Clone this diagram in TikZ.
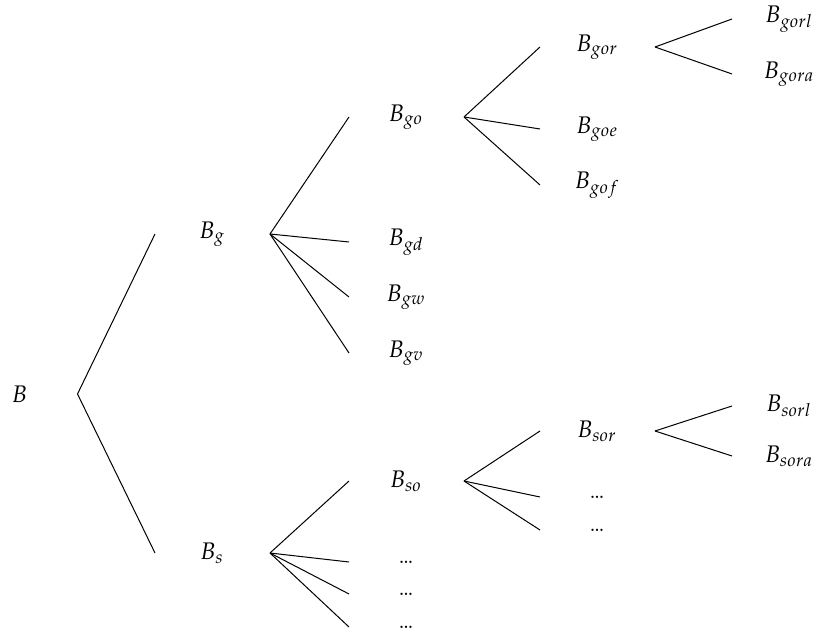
\documentclass[tikz,border=0pt]{standalone}
\usepackage{mathpazo}
\begin{document}
\begin{tikzpicture}[x=0.5pt,y=-0.5pt,
  lbl/.style={inner sep=0pt, font=\fontsize{12}{14.4}\selectfont},
  branch/.style={line width=0.5pt, line join=miter}]
\useasboundingbox (0,0) rectangle (818,635);

% column centres
\def\cA{19.5}
\def\cB{212}
\def\cC{406}
\def\cD{597}
\def\cE{789}

% level 0
\node[lbl] (B)    at (\cA,394) {$B$};
% level 1
\node[lbl] (Bg)   at (\cB,234) {$B_{g}$};
\node[lbl] (Bs)   at (\cB,553) {$B_{s}$};
% level 2
\node[lbl] (Bgo)  at (\cC,117) {$B_{go}$};
\node[lbl] (Bgd)  at (\cC,242) {$B_{gd}$};
\node[lbl] (Bgw)  at (\cC,297) {$B_{gw}$};
\node[lbl] (Bgv)  at (\cC,353) {$B_{gv}$};
\node[lbl] (Bso)  at (\cC,481) {$B_{so}$};
\node[lbl] (Bs1)  at (\cC,562) {\ldots};
\node[lbl] (Bs2)  at (\cC,594) {\ldots};
\node[lbl] (Bs3)  at (\cC,627) {\ldots};
% level 3
\node[lbl] (Bgor) at (\cD,47)  {$B_{gor}$};
\node[lbl] (Bgoe) at (\cD,129) {$B_{goe}$};
\node[lbl] (Bgof) at (\cD,185) {$B_{gof}$};
\node[lbl] (Bsor) at (\cD,431) {$B_{sor}$};
\node[lbl] (Bso1) at (\cD,497) {\ldots};
\node[lbl] (Bso2) at (\cD,530) {\ldots};
% level 4
\node[lbl] (Bgorl) at (\cE,19)  {$B_{gorl}$};
\node[lbl] (Bgora) at (\cE,74)  {$B_{gora}$};
\node[lbl] (Bsorl) at (\cE,406) {$B_{sorl}$};
\node[lbl] (Bsora) at (\cE,456) {$B_{sora}$};

% branches: from a point right of the parent to a point left of the child
\newcommand{\branchline}[2]{%
  \draw[branch] ([xshift=29pt]#1.center) -- ([xshift=-28.5pt]#2.center);}
\foreach \p/\c in {B/Bg, B/Bs,
                   Bg/Bgo, Bg/Bgd, Bg/Bgw, Bg/Bgv,
                   Bs/Bso, Bs/Bs1, Bs/Bs2, Bs/Bs3,
                   Bgo/Bgor, Bgo/Bgoe, Bgo/Bgof,
                   Bso/Bsor, Bso/Bso1, Bso/Bso2,
                   Bgor/Bgorl, Bgor/Bgora,
                   Bsor/Bsorl, Bsor/Bsora}
  {\branchline{\p}{\c}}
\end{tikzpicture}
\end{document}
